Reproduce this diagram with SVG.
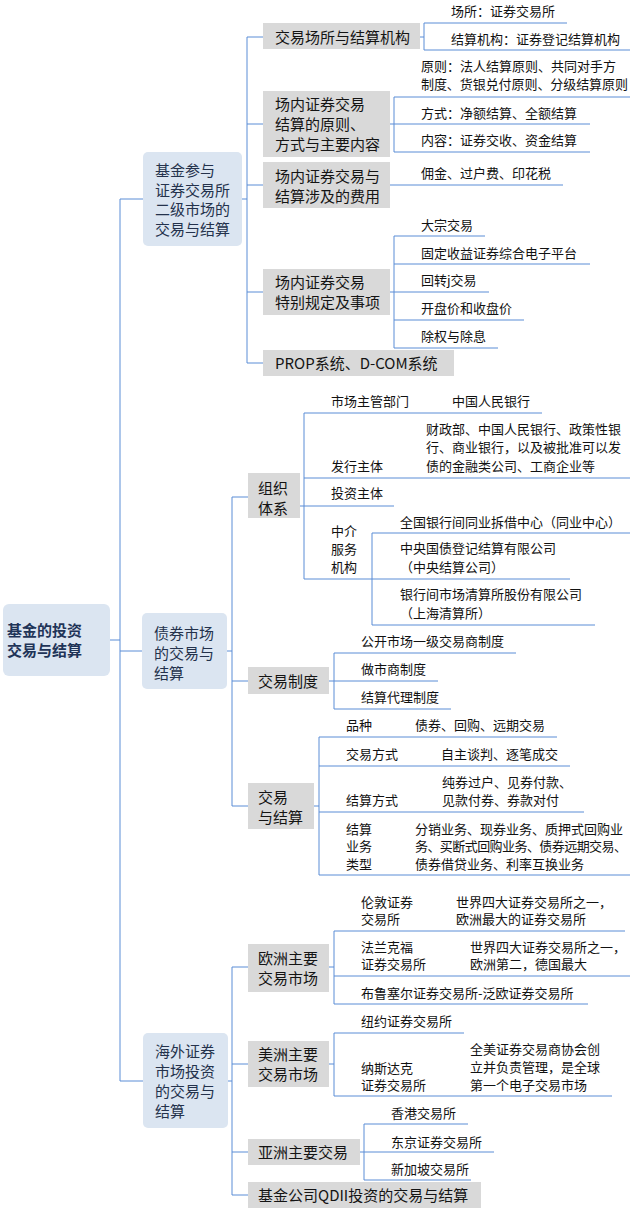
<svg xmlns="http://www.w3.org/2000/svg" width="630" height="1210" viewBox="0 0 630 1210">
<style>
text{font-family:"Noto Sans CJK SC","Noto Sans",sans-serif;}
.c{fill:none;stroke:#5b8dd6;stroke-width:1;}
.root rect{fill:#dbe5f1;}
.root text{font-size:15px;font-weight:bold;fill:#1f3458;}
.l1 rect{fill:#dbe5f1;}
.l1 text{font-size:15px;fill:#24324c;}
.l2 rect{fill:#d9d9d9;}
.l2 text{font-size:15px;fill:#141414;}
.lf text{font-size:13px;fill:#111111;}
</style>
<rect width="630" height="1210" fill="#ffffff"/>
<g id="connectors" class="c">
<path d="M110 640H120M120 199V1081M120 199H143M120 651H142M120 1081H143"/>
<path d="M242 199H247M247 37V363M247 37H263M247 124H263M247 185H263M247 292H263M247 363H263"/>
<path d="M420 37H424M424 23V50M424 23H567M424 50H630"/>
<path d="M390 124H394M394 97V152M394 97H630M394 124H590M394 152H590"/>
<path d="M390 185H563"/>
<path d="M390 292H394M394 236V348M394 236H485M394 264H590M394 292H489M394 320H524M394 348H498"/>
<path d="M227 651H232M232 497V806M232 497H248M232 681H248M232 806H248"/>
<path d="M300 506H304M304 413V579M304 413H542M304 478H630M304 506H394M304 579H570M372 533V625M372 533H630M372 625H595"/>
<path d="M329 681H334M334 653V709M334 653H516M334 681H438M334 709H451"/>
<path d="M314 806H319M319 737V875M319 737H557M319 766H570M319 812H584M319 875H630"/>
<path d="M228 1081H232M232 967V1195M232 967H248M232 1064H248M232 1152H248M232 1195H248"/>
<path d="M329 967H334M334 931V1004M334 931H625M334 976H630M334 1004H588"/>
<path d="M329 1064H334M334 1033V1096M334 1033H464M334 1096H612"/>
<path d="M360 1152H364M364 1124V1180M364 1124H468M364 1152H494M364 1180H471"/>
</g>
<g id="root" class="root"><rect x="3" y="604" width="107" height="72" rx="6"/><text x="7" y="635.5">基金的投资</text><text x="7" y="655.5">交易与结算</text></g>
<g id="n1" class="l1"><rect x="143" y="152" width="99" height="94" rx="5"/><text x="155" y="176">基金参与</text><text x="155" y="196">证券交易所</text><text x="155" y="215">二级市场的</text><text x="155" y="235">交易与结算</text></g>
<g id="n2" class="l1"><rect x="142" y="613" width="85" height="76" rx="5"/><text x="154" y="638.5">债券市场</text><text x="154" y="658.5">的交易与</text><text x="154" y="678.5">结算</text></g>
<g id="n3" class="l1"><rect x="143" y="1033" width="85" height="95" rx="5"/><text x="155" y="1057">海外证券</text><text x="155" y="1077">市场投资</text><text x="155" y="1097">的交易与</text><text x="155" y="1117">结算</text></g>
<g id="n1a" class="l2"><rect x="263" y="23" width="157" height="26"/><text x="275" y="42.5">交易场所与结算机构</text></g>
<g id="n1b" class="l2"><rect x="263" y="91" width="127" height="66"/><text x="275" y="109.5">场内证券交易</text><text x="275" y="129.5">结算的原则、</text><text x="275" y="149.5">方式与主要内容</text></g>
<g id="n1c" class="l2"><rect x="263" y="162" width="127" height="46"/><text x="275" y="181.5">场内证券交易与</text><text x="275" y="201.5">结算涉及的费用</text></g>
<g id="n1d" class="l2"><rect x="263" y="269" width="127" height="46"/><text x="275" y="287.5">场内证券交易</text><text x="275" y="307.5">特别规定及事项</text></g>
<g id="n1e" class="l2"><rect x="263" y="350" width="191" height="26"/><text x="275" y="368.5">PROP系统、D-COM系统</text></g>
<g id="n2a" class="l2"><rect x="248" y="473" width="52" height="45"/><text x="258" y="493.5">组织</text><text x="258" y="513.5">体系</text></g>
<g id="n2b" class="l2"><rect x="248" y="667" width="81" height="27"/><text x="258" y="686.5">交易制度</text></g>
<g id="n2c" class="l2"><rect x="248" y="783" width="66" height="46"/><text x="258" y="802.5">交易</text><text x="258" y="822.5">与结算</text></g>
<g id="n3a" class="l2"><rect x="248" y="944" width="81" height="48"/><text x="258" y="963.5">欧洲主要</text><text x="258" y="983.5">交易市场</text></g>
<g id="n3b" class="l2"><rect x="248" y="1041" width="81" height="46"/><text x="258" y="1059.5">美洲主要</text><text x="258" y="1079.5">交易市场</text></g>
<g id="n3c" class="l2"><rect x="248" y="1139" width="112" height="26"/><text x="258" y="1157.5">亚洲主要交易</text></g>
<g id="n3d" class="l2"><rect x="248" y="1182" width="233" height="26"/><text x="258" y="1200.5">基金公司QDII投资的交易与结算</text></g>
<g id="leaves" class="lf">
<g id="lf1"><text x="451" y="16">场所：证券交易所</text></g>
<g id="lf2"><text x="451" y="44">结算机构：证券登记结算机构</text></g>
<g id="lf3"><text x="421" y="70.5">原则：法人结算原则、共同对手方</text><text x="421" y="88.5" textLength="207">制度、货银兑付原则、分级结算原则</text></g>
<g id="lf4"><text x="421" y="118">方式：净额结算、全额结算</text></g>
<g id="lf5"><text x="421" y="145">内容：证券交收、资金结算</text></g>
<g id="lf6"><text x="421" y="178">佣金、过户费、印花税</text></g>
<g id="lf7"><text x="421" y="230">大宗交易</text></g>
<g id="lf8"><text x="421" y="258">固定收益证券综合电子平台</text></g>
<g id="lf9"><text x="421" y="285">回转j交易</text></g>
<g id="lf10"><text x="421" y="313">开盘价和收盘价</text></g>
<g id="lf11"><text x="421" y="341">除权与除息</text></g>
<g id="lf12"><text x="331" y="406">市场主管部门</text><text x="452" y="406">中国人民银行</text></g>
<g id="lf13"><text x="331" y="471">发行主体</text><text x="426" y="434">财政部、中国人民银行、政策性银</text><text x="426" y="452">行、商业银行，以及被批准可以发</text><text x="426" y="471">债的金融类公司、工商企业等</text></g>
<g id="lf14"><text x="331" y="498">投资主体</text></g>
<g id="lf15"><text x="331" y="536">中介</text><text x="331" y="554">服务</text><text x="331" y="572">机构</text></g>
<g id="lf16"><text x="400" y="527">全国银行间同业拆借中心（同业中心）</text></g>
<g id="lf17"><text x="400" y="553">中央国债登记结算有限公司</text><text x="400" y="572">（中央结算公司）</text></g>
<g id="lf18"><text x="400" y="599">银行间市场清算所股份有限公司</text><text x="400" y="618">（上海清算所）</text></g>
<g id="lf19"><text x="361" y="646">公开市场一级交易商制度</text></g>
<g id="lf20"><text x="361" y="674">做市商制度</text></g>
<g id="lf21"><text x="361" y="702">结算代理制度</text></g>
<g id="lf22"><text x="346" y="730">品种</text><text x="415" y="730">债券、回购、远期交易</text></g>
<g id="lf23"><text x="346" y="759">交易方式</text><text x="441" y="759">自主谈判、逐笔成交</text></g>
<g id="lf24"><text x="346" y="805">结算方式</text><text x="442" y="787">纯券过户、见券付款、</text><text x="442" y="805">见款付券、券款对付</text></g>
<g id="lf25"><text x="346" y="834">结算</text><text x="346" y="851">业务</text><text x="346" y="869">类型</text><text x="415" y="834">分销业务、现券业务、质押式回购业</text><text x="415" y="851" textLength="212">务、买断式回购业务、债券远期交易、</text><text x="415" y="869">债券借贷业务、利率互换业务</text></g>
<g id="lf26"><text x="361" y="907">伦敦证券</text><text x="361" y="924">交易所</text><text x="456" y="907">世界四大证券交易所之一，</text><text x="456" y="924">欧洲最大的证券交易所</text></g>
<g id="lf27"><text x="361" y="952">法兰克福</text><text x="361" y="969">证券交易所</text><text x="470" y="952">世界四大证券交易所之一，</text><text x="470" y="969">欧洲第二，德国最大</text></g>
<g id="lf28"><text x="361" y="998">布鲁塞尔证券交易所-泛欧证券交易所</text></g>
<g id="lf29"><text x="361" y="1026">纽约证券交易所</text></g>
<g id="lf30"><text x="361" y="1073">纳斯达克</text><text x="361" y="1090">证券交易所</text><text x="470" y="1054">全美证券交易商协会创</text><text x="470" y="1072">立并负责管理，是全球</text><text x="470" y="1090">第一个电子交易市场</text></g>
<g id="lf31"><text x="391" y="1118">香港交易所</text></g>
<g id="lf32"><text x="391" y="1147">东京证券交易所</text></g>
<g id="lf33"><text x="391" y="1174">新加坡交易所</text></g>
</g>
</svg>
